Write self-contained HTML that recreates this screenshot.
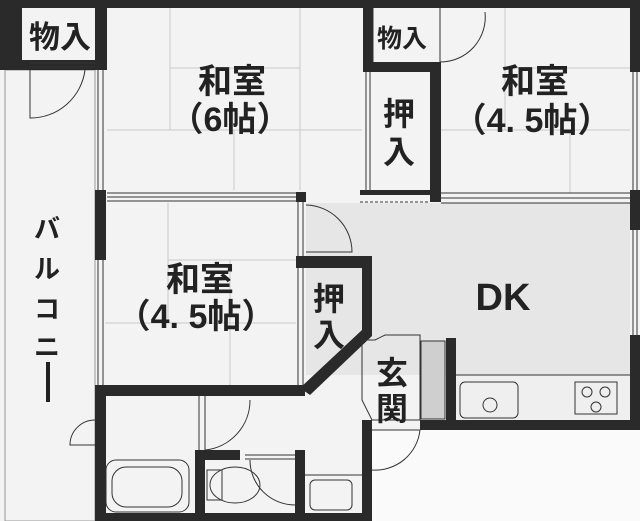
<!DOCTYPE html>
<html><head><meta charset="utf-8"><style>
html,body{margin:0;padding:0;background:#f3f3f3}
svg{display:block}
text{font-family:"Liberation Sans","Noto Sans CJK JP",sans-serif;font-weight:bold;fill:#222}
</style></head><body>
<svg width="640" height="521" viewBox="0 0 640 521" xmlns="http://www.w3.org/2000/svg">
<rect width="640" height="521" fill="#f3f3f3"/>
<rect x="372" y="430" width="268" height="91" fill="#fafafa"/>
<rect x="306" y="203" width="324" height="172" fill="#e6e6e6"/>
<rect x="455" y="375" width="175" height="45" fill="#efefef"/>
<g stroke="#c8c8c8" stroke-width="1" fill="none">
<line x1="170" y1="8" x2="170" y2="130"/><line x1="170" y1="68" x2="300" y2="68"/><line x1="300" y1="8" x2="300" y2="190"/>
<line x1="107" y1="130" x2="362" y2="130"/><line x1="234" y1="130" x2="234" y2="190"/>
<line x1="505" y1="8" x2="505" y2="130"/><line x1="505" y1="68" x2="630" y2="68"/><line x1="440" y1="130" x2="630" y2="130"/><line x1="570" y1="130" x2="570" y2="193"/>
<line x1="168" y1="203" x2="168" y2="323"/><line x1="105" y1="323" x2="296" y2="323"/><line x1="230" y1="260" x2="230" y2="385"/><line x1="168" y1="260" x2="296" y2="260"/>
</g>
<rect x="5" y="70" width="90" height="451" fill="none" stroke="#999" stroke-width="1"/>
<g fill="#2a2a2a">
<rect x="0" y="0" width="640" height="8"/>
<rect x="0" y="0" width="22" height="70"/>
<rect x="0" y="60" width="107" height="10"/>
<rect x="95" y="0" width="12" height="70"/>
<rect x="95" y="190" width="11" height="70"/>
<rect x="95" y="385" width="11" height="136"/>
<rect x="296" y="192" width="10" height="10"/>
<rect x="363" y="0" width="10" height="72"/>
<rect x="363" y="62" width="77" height="10"/>
<rect x="430" y="62" width="11" height="140"/>
<rect x="360" y="190" width="70" height="5"/>
<rect x="630" y="0" width="10" height="72"/>
<rect x="630" y="190" width="10" height="40"/>
<rect x="630" y="335" width="10" height="95"/>
<rect x="296" y="256" width="76" height="12"/>
<rect x="362" y="256" width="10" height="80"/>
<polygon points="362,330 372,336 310,395 300,388"/>
<rect x="95" y="385" width="210" height="11"/>
<rect x="446" y="338" width="10" height="92"/>
<rect x="420" y="420" width="220" height="10"/>
<rect x="362" y="420" width="10" height="101"/>
<rect x="95" y="513" width="277" height="8"/>
<rect x="195" y="450" width="10" height="70"/>
<rect x="195" y="450" width="45" height="10"/>
<rect x="295" y="450" width="10" height="70"/>
</g>
<g stroke="#333" stroke-width="1" fill="none">
<line x1="98" y1="70" x2="98" y2="190"/><line x1="103" y1="70" x2="103" y2="190"/>
<line x1="98" y1="260" x2="98" y2="385"/><line x1="103" y1="260" x2="103" y2="385"/>
<line x1="107" y1="193" x2="296" y2="193"/><line x1="107" y1="197" x2="296" y2="197"/><line x1="107" y1="201" x2="296" y2="201"/>
<line x1="441" y1="193" x2="630" y2="193"/><line x1="441" y1="198" x2="630" y2="198"/><line x1="441" y1="203" x2="630" y2="203"/>
<line x1="366" y1="72" x2="366" y2="190"/><line x1="370" y1="72" x2="370" y2="190"/>
<line x1="298" y1="202" x2="298" y2="256"/><line x1="303" y1="202" x2="303" y2="256"/>
<line x1="298" y1="268" x2="298" y2="385"/><line x1="303" y1="268" x2="303" y2="385"/>
<line x1="633" y1="72" x2="633" y2="190"/><line x1="637" y1="72" x2="637" y2="190"/>
<line x1="633" y1="230" x2="633" y2="335"/><line x1="637" y1="230" x2="637" y2="335"/>
<line x1="30" y1="63" x2="95" y2="63"/><line x1="30" y1="67" x2="95" y2="67"/>
<line x1="373" y1="8" x2="373" y2="62"/>
<path d="M30 70 L30 118 A55 55 0 0 0 85 70"/>
<path d="M440 8 L440 62 A45 45 0 0 0 485 12"/>
<path d="M306 205 A47 47 0 0 1 352 252 L306 252"/>
<path d="M205 400 L205 450 A50 50 0 0 0 250 400"/>
<path d="M95 445 L70 445 A25 25 0 0 1 95 420"/>
<path d="M372 430 L420 430 A45 45 0 0 1 372 470"/>
<line x1="205" y1="396" x2="205" y2="450"/><line x1="199" y1="396" x2="199" y2="450"/>
<line x1="245" y1="455" x2="295" y2="455"/><line x1="245" y1="459" x2="295" y2="459"/>
<path d="M250 460 A45 45 0 0 0 295 505"/>
<line x1="305" y1="475" x2="362" y2="475"/>
<rect x="310" y="480" width="42" height="30" rx="5"/>
<path d="M362 340 L375 340 L385 335 L420 335 L420 420 L372 420 L362 400 Z"/>
<line x1="360" y1="202" x2="430" y2="202" stroke-dasharray="3,2"/>
<line x1="455" y1="375" x2="630" y2="375"/>
<rect x="460" y="382" width="58" height="36" rx="5"/>
<circle cx="490" cy="405" r="7"/>
<rect x="575" y="382" width="42" height="32"/>
<circle cx="587" cy="392" r="5"/><circle cx="605" cy="392" r="5"/><circle cx="596" cy="407" r="5"/>
<rect x="106" y="460" width="83" height="52" rx="10"/>
<rect x="112" y="467" width="70" height="40" rx="14"/>
<ellipse cx="235" cy="485" rx="25" ry="18"/>
<rect x="207" y="470" width="15" height="30"/>
</g>
<rect x="421" y="341" width="24" height="78" fill="#cfcfcf" stroke="#333"/>
<g text-anchor="middle">
<text x="60" y="48" font-size="31">物入</text>
<text x="402" y="47" font-size="25">物入</text>
<text x="232" y="93" font-size="34">和室</text>
<text x="230" y="131" font-size="34">（6帖）</text>
<text x="535" y="93" font-size="34">和室</text>
<text x="532" y="132" font-size="34">（4. 5帖）</text>
<text x="399" y="125" font-size="32">押</text>
<text x="399" y="163" font-size="32">入</text>
<text x="200" y="291" font-size="34">和室</text>
<text x="196" y="328" font-size="34">（4. 5帖）</text>
<text x="329" y="310" font-size="32">押</text>
<text x="329" y="346" font-size="32">入</text>
<text x="503" y="310" font-size="38" font-weight="normal">DK</text>
<text x="392" y="384" font-size="32">玄</text>
<text x="392" y="420" font-size="32">関</text>
<text x="47" y="238" font-size="26" font-weight="normal">バ</text>
<text x="47" y="278" font-size="26" font-weight="normal">ル</text>
<text x="47" y="318" font-size="26" font-weight="normal">コ</text>
<text x="47" y="356" font-size="26" font-weight="normal">ニ</text>
</g>
<rect x="46" y="362" width="4" height="40" fill="#222"/>
</svg>
</body></html>
